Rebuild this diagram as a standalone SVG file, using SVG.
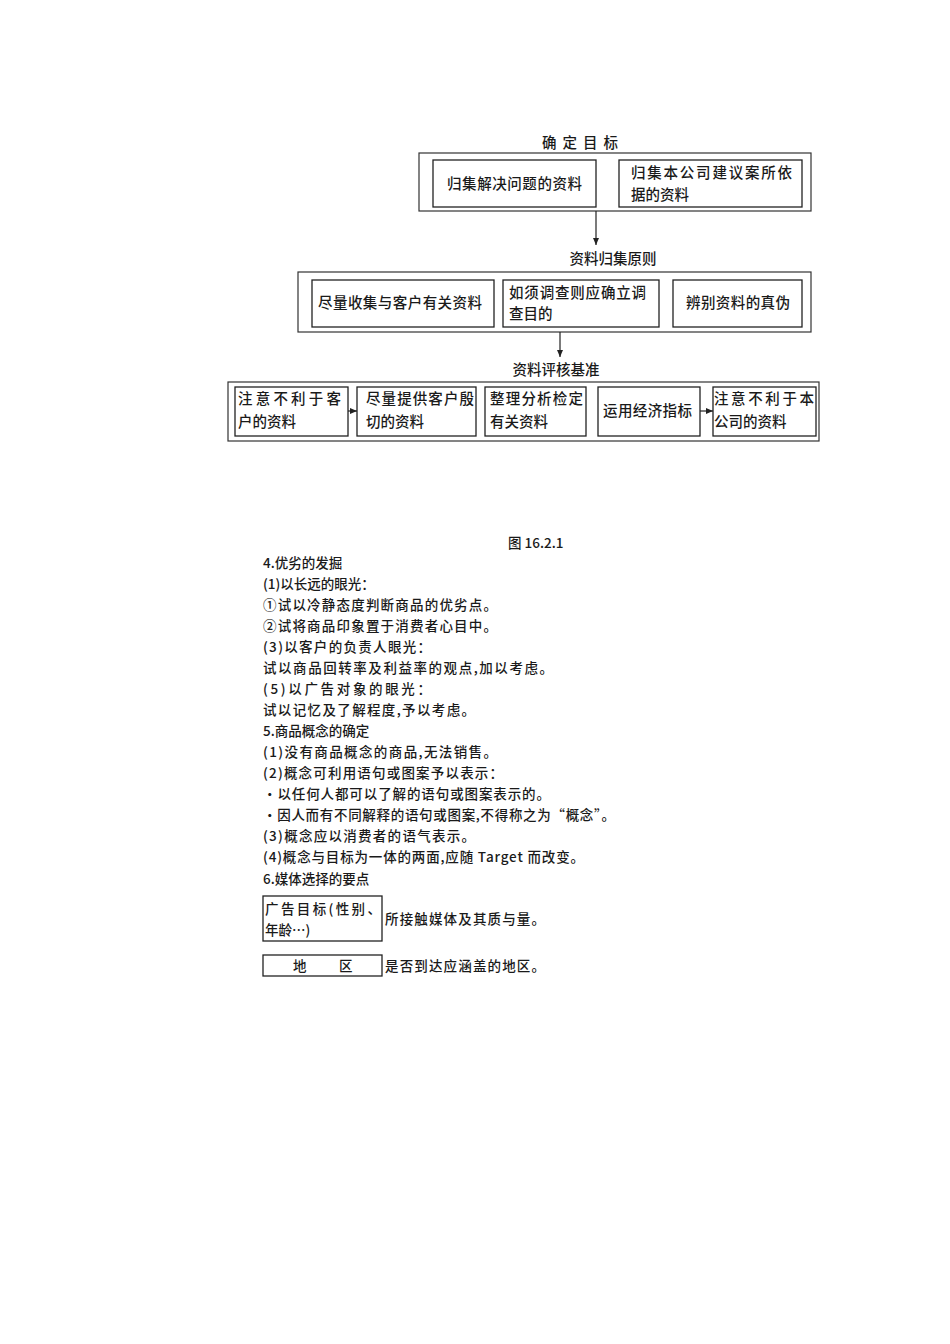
<svg xmlns="http://www.w3.org/2000/svg" width="950" height="1344" viewBox="0 0 950 1344">
<style>
text{font-family:"Noto Sans CJK SC","Noto Sans",sans-serif;fill:#1a1a1a;font-size:14px;}
.b{fill:none;stroke:#222;stroke-width:1.3;}
.o{fill:none;stroke:#333;stroke-width:1.2;}
.c{stroke:#222;stroke-width:1.2;fill:none;}
.t{font-size:14.5px;font-weight:500;}
.h{font-size:14.5px;font-weight:500;}
.p{font-size:13.5px;font-weight:500;}
</style>
<defs>
<marker id="ah" markerWidth="8" markerHeight="8" refX="7" refY="4" orient="auto" markerUnits="userSpaceOnUse">
<path d="M0,1 L7,4 L0,7 Z" fill="#222"/>
</marker>
</defs>
<rect width="950" height="1344" fill="#fff"/>

<g id="sec1">
<text class="h" x="583" y="148" text-anchor="middle" letter-spacing="6">确定目标</text>
<rect class="o" x="419" y="153" width="392" height="58"/>
<g id="n1a"><rect class="b" x="433" y="160" width="163" height="47"/>
<text class="t" x="447" y="189" textLength="135">归集解决问题的资料</text></g>
<g id="n1b"><rect class="b" x="619" y="160" width="183" height="47"/>
<text class="t" x="631" y="178" textLength="161">归集本公司建议案所依</text>
<text class="t" x="631" y="200">据的资料</text></g>
</g>

<g id="sec2">
<text class="h" x="613" y="264" text-anchor="middle">资料归集原则</text>
<rect class="o" x="298" y="272" width="513" height="60"/>
<g id="n2a"><rect class="b" x="312" y="280" width="182" height="47"/>
<text class="t" x="318" y="308" textLength="164">尽量收集与客户有关资料</text></g>
<g id="n2b"><rect class="b" x="503" y="280" width="156" height="47"/>
<text class="t" x="509" y="298" textLength="137">如须调查则应确立调</text>
<text class="t" x="509" y="319">查目的</text></g>
<g id="n2c"><rect class="b" x="673" y="280" width="129" height="47"/>
<text class="t" x="686" y="308" textLength="104">辨别资料的真伪</text></g>
</g>

<g id="sec3">
<text class="h" x="556" y="375" text-anchor="middle">资料评核基准</text>
<rect class="o" x="228" y="382" width="591" height="59"/>
<g id="n3a"><rect class="b" x="235" y="387" width="113" height="49"/>
<text class="t" x="238" y="404" textLength="103">注意不利于客</text>
<text class="t" x="238" y="427">户的资料</text></g>
<g id="n3b"><rect class="b" x="357" y="387" width="119" height="49"/>
<text class="t" x="366" y="404" textLength="108">尽量提供客户殷</text>
<text class="t" x="366" y="427">切的资料</text></g>
<g id="n3c"><rect class="b" x="485" y="387" width="101" height="49"/>
<text class="t" x="490" y="404" textLength="93">整理分析检定</text>
<text class="t" x="490" y="427">有关资料</text></g>
<g id="n3d"><rect class="b" x="598" y="387" width="102" height="49"/>
<text class="t" x="603" y="416" textLength="89">运用经济指标</text></g>
<g id="n3e"><rect class="b" x="713" y="387" width="103" height="49"/>
<text class="t" x="714" y="404" textLength="100">注意不利于本</text>
<text class="t" x="714" y="427">公司的资料</text></g>
</g>

<g id="connectors">
<line class="c" x1="596" y1="211" x2="596" y2="245" marker-end="url(#ah)"/>
<line class="c" x1="560" y1="332" x2="560" y2="357" marker-end="url(#ah)"/>
<line class="c" x1="348" y1="411" x2="357" y2="411" marker-end="url(#ah)"/>
<line class="c" x1="700" y1="411" x2="713" y2="411" marker-end="url(#ah)"/>
</g>

<g id="caption">
<text class="p" x="508" y="548" font-weight="700">图 16.2.1</text>
</g>

<g id="body">
<text class="p" x="263" y="568">4.优劣的发掘</text>
<text class="p" x="263" y="589">(1)以长远的眼光：</text>
<text class="p" x="263" y="610" textLength="234">①试以冷静态度判断商品的优劣点。</text>
<text class="p" x="263" y="631" textLength="234">②试将商品印象置于消费者心目中。</text>
<text class="p" x="263" y="652" textLength="168">(3)以客户的负责人眼光：</text>
<text class="p" x="263" y="673" textLength="290">试以商品回转率及利益率的观点,加以考虑。</text>
<text class="p" x="263" y="694" textLength="168">(5)以广告对象的眼光：</text>
<text class="p" x="263" y="715" textLength="212">试以记忆及了解程度,予以考虑。</text>
<text class="p" x="263" y="736">5.商品概念的确定</text>
<text class="p" x="263" y="757" textLength="234">(1)没有商品概念的商品,无法销售。</text>
<text class="p" x="263" y="778" textLength="240">(2)概念可利用语句或图案予以表示：</text>
<text class="p" x="263" y="799" textLength="287">·以任何人都可以了解的语句或图案表示的。</text>
<text class="p" x="263" y="820" textLength="352">·因人而有不同解释的语句或图案,不得称之为“概念”。</text>
<text class="p" x="263" y="841" textLength="212">(3)概念应以消费者的语气表示。</text>
<text class="p" x="263" y="862" textLength="321">(4)概念与目标为一体的两面,应随 Target 而改变。</text>
<text class="p" x="263" y="884">6.媒体选择的要点</text>
</g>

<g id="m1"><rect class="b" x="263" y="896" width="119" height="45"/>
<text class="p" x="265" y="914" textLength="116">广告目标(性别、</text>
<text class="p" x="265" y="935">年龄…)</text></g>
<text class="p" x="385" y="924" textLength="160">所接触媒体及其质与量。</text>
<g id="m2"><rect class="b" x="263" y="955" width="119" height="21"/>
<text class="p" x="293" y="971">地</text>
<text class="p" x="339" y="971">区</text></g>
<text class="p" x="385" y="971" textLength="160">是否到达应涵盖的地区。</text>
</svg>
